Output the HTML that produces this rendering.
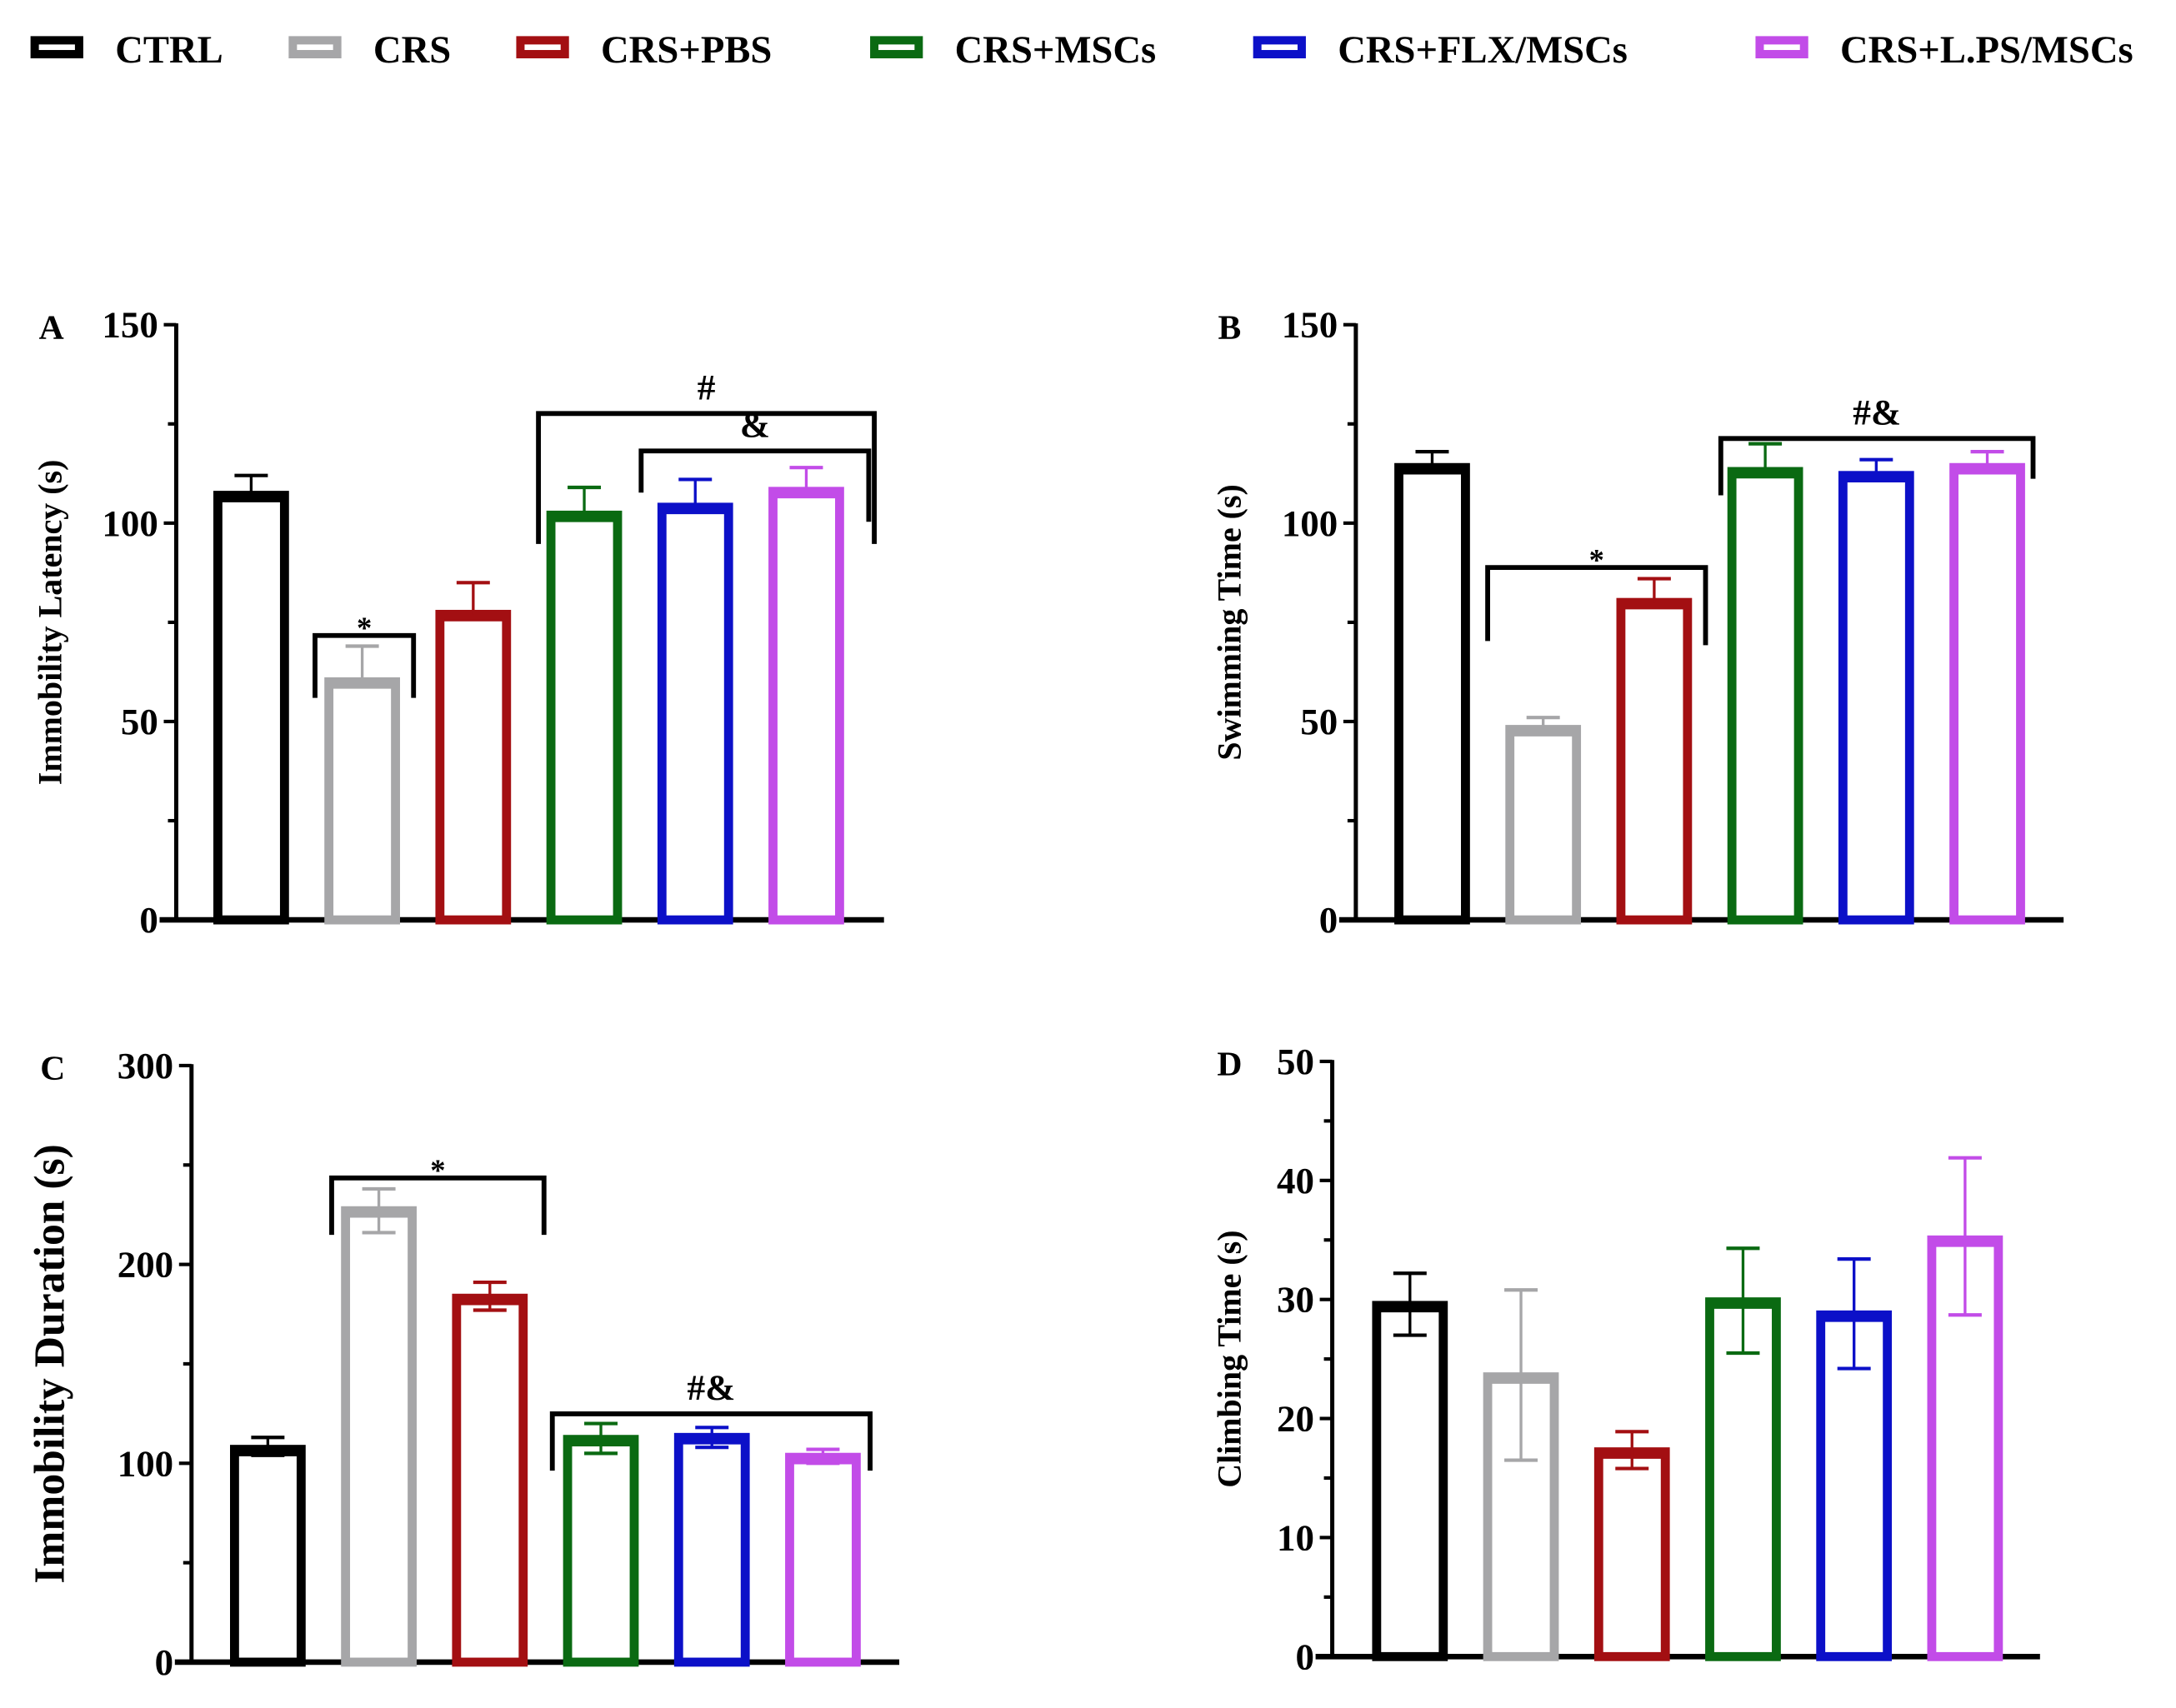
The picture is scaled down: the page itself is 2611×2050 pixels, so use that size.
<!DOCTYPE html>
<html><head><meta charset="utf-8"><style>
html,body{margin:0;padding:0;background:#fff}
svg{display:block}
text{font-family:"Liberation Serif",serif;font-weight:bold;fill:#000}
</style></head><body>
<svg id="fig" width="2611" height="2050" viewBox="0 0 1568 1231" xmlns="http://www.w3.org/2000/svg"></svg>
<script>
const groups=["CTRL","CRS","CRS+PBS","CRS+MSCs","CRS+FLX/MSCs","CRS+L.PS/MSCs"];
const colors=["#000000","#a6a6a8","#a30f12","#0a6a12","#0c10c8","#c24ce8"];
const valsA=[107,60,77,102,104,108];
const errA=[112,69,85,109,111,114];
const valsB=[114,48,80,113,112,114];
const errB=[118,51,86,120,116,118];
const valsC=[107,227,183,112,113,103];
const loC=[104,216,177,105,108,100];
const hiC=[113,238,191,120,118,107];
const valsD=[29.5,23.5,17.2,29.8,28.7,35];
const loD=[27,16.5,15.8,25.5,24.2,28.7];
const hiD=[32.2,30.8,18.9,34.3,33.4,41.9];
const ticksA=[0,50,100,150], ticksB=[0,50,100,150], ticksC=[0,100,200,300], ticksD=[0,10,20,30,40,50];
const legendX=[22,208,372,627,903,1265];

const NS="http://www.w3.org/2000/svg";
const svg=document.getElementById('fig');
function el(tag,attrs,parent){const e=document.createElementNS(NS,tag);for(const k in attrs)e.setAttribute(k,attrs[k]);(parent||svg).appendChild(e);return e;}

// legend
const lg=el('g',{});


groups.forEach((g,i)=>{
  const it=el('g',{},lg);
  
  
  el('rect',{x:legendX[i]+3,y:29,width:32,height:10,fill:'none',stroke:colors[i],'stroke-width':6},it);
  const t=el('text',{x:legendX[i]+61,y:45,'font-size':28},it);t.textContent=g;
});

function panel(p){
  const g=el('g',{});
  
  
  const y=v=>p.y0-(v-p.min)/(p.max-p.min)*(p.y0-p.y1);
  el('line',{x1:p.ax,y1:p.y1-1,x2:p.ax,y2:p.y0,stroke:'#000','stroke-width':3},g);
  el('line',{x1:p.ax-12,y1:p.y0,x2:p.ax+510,y2:p.y0,stroke:'#000','stroke-width':4},g);
  const step=(p.ticks[1]-p.ticks[0])/2;
  for(let v=p.min;v<=p.max+1e-9;v+=step){
    const major=p.ticks.some(t=>Math.abs(t-v)<1e-9);
    el('line',{x1:p.ax-(major?9:6),y1:y(v),x2:p.ax,y2:y(v),stroke:'#000','stroke-width':2.5},g);
  }
  p.ticks.forEach(t=>{
    const tx=el('text',{x:p.ax-13,y:y(t)+9,'font-size':27,'text-anchor':'end'},g);tx.textContent=t;
  });
  const L=el('text',{x:p.lx,y:p.y1+10,'font-size':25,'text-anchor':'middle'},g);L.textContent=p.letter;
  const yt=el('text',{x:0,y:0,'font-size':p.tfs,'text-anchor':'middle',transform:`translate(${p.tx},${(p.y0+p.y1)/2}) rotate(-90)`},g);
  yt.textContent=p.title;
  
  
  p.vals.forEach((v,i)=>{
    const cx=p.bx+i*80, c=colors[i];
    const b=el('g',{},g);
    
    
    const top=y(v);
    el('rect',{x:cx-24,y:top,width:48,height:p.y0-top,fill:'none',stroke:c,'stroke-width':6.5},b);
    el('line',{x1:cx-27,y1:top+1,x2:cx+27,y2:top+1,stroke:c,'stroke-width':8},b);
    const hi=y(p.hi[i]), lo=p.lo?y(p.lo[i]):top;
    el('line',{x1:cx,y1:hi,x2:cx,y2:lo,stroke:c,'stroke-width':2},b);
    el('line',{x1:cx-12,y1:hi,x2:cx+12,y2:hi,stroke:c,'stroke-width':2.5},b);
    if(p.lo) el('line',{x1:cx-12,y1:lo,x2:cx+12,y2:lo,stroke:c,'stroke-width':2.5},b);
  });
  (p.br||[]).forEach(br=>{
    const bg=el('g',{},g);
    
    
    el('polyline',{points:`${br[0]},${br[3]} ${br[0]},${br[2]} ${br[1]},${br[2]} ${br[1]},${br[4]}`,fill:'none',stroke:'#000','stroke-width':3.5},bg);
    const t=el('text',{x:(br[0]+br[1])/2,y:br[2]-(br[5]=='*'?-2:10),'font-size':br[5]=='*'?22:26,'text-anchor':'middle'},bg);t.textContent=br[5];
  });
}
panel({letter:'A',ax:127,y0:663,y1:234,min:0,max:150,ticks:ticksA,bx:181,vals:valsA,hi:errA,lx:37,tx:44,tfs:24,title:'Immobility Latency (s)',
  br:[[227,298,458,503,503,'*'],[388,630,298,392,392,'#'],[462,626,325,355,376,'&']]});
panel({letter:'B',ax:977,y0:663,y1:234,min:0,max:150,ticks:ticksB,bx:1032,vals:valsB,hi:errB,lx:886,tx:894,tfs:24,title:'Swimming Time (s)',
  br:[[1072,1229,409,462,465,'*'],[1240,1465,316,357,345,'#&']]});
panel({letter:'C',ax:138,y0:1198,y1:768,min:0,max:300,ticks:ticksC,bx:193,vals:valsC,lo:loC,hi:hiC,lx:38,tx:46,tfs:31,title:'Immobility Duration (s)',
  br:[[239,392,849,890,890,'*'],[398,627,1019,1060,1060,'#&']]});
panel({letter:'D',ax:960,y0:1194,y1:765,min:0,max:50,ticks:ticksD,bx:1016,vals:valsD,lo:loD,hi:hiD,lx:886,tx:894,tfs:24,title:'Climbing Time (s)'});
</script>
</body></html>
